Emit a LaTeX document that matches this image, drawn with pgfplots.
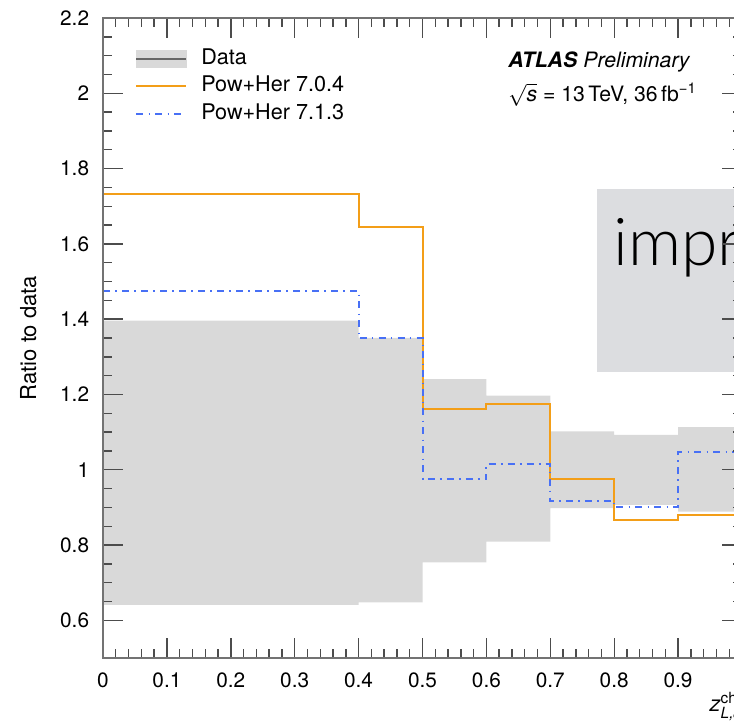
\documentclass[border=0pt]{standalone}
\usepackage{fontspec}
\usepackage{amsmath}
\usepackage{pgfplots}
\pgfplotsset{compat=1.18}
\usepgfplotslibrary{fillbetween}
\usetikzlibrary{calc}
\setmainfont{TeX Gyre Heros}
\newfontfamily\thinfont{Lato Light}

\definecolor{bandgray}{RGB}{217,217,217}
\definecolor{herorange}{RGB}{243,158,24}
\definecolor{herblue}{RGB}{72,112,245}
\definecolor{boxgray}{RGB}{220,221,224}

\begin{document}
\fontsize{10.4bp}{12bp}\selectfont
\begin{tikzpicture}
\begin{axis}[
    name=ax,
    scale only axis,
    width=319.5bp, height=320bp,
    xmin=0, xmax=1, ymin=0.5, ymax=2.2,
    xtick={0,0.1,...,1.0},
    ytick={0.6,0.8,1,1.2,1.4,1.6,1.8,2,2.2},
    minor x tick num=4,
    minor y tick num=3,
    tick align=inside,
    major tick length=10bp,
    minor tick length=4.3bp,
    axis line style={black!55, line width=0.8bp},
    every tick/.style={black!70, line width=0.7bp},
    axis on top,
    /pgf/number format/assume math mode=true,
    /pgf/number format/fixed,
    yticklabel style={xshift=-3.3bp},
    xticklabel style={yshift=-3.8bp},
    ylabel={Ratio to data},
    ylabel style={at={(axis description cs:-0.117,0.5)}, anchor=center, font=\fontsize{11bp}{13bp}\selectfont},
    xlabel={$\textit{z}^{\text{ch}}_{\textit{L,J}}$},
    xlabel style={at={(axis description cs:0.938,-0.083)}, anchor=base west, font=\fontsize{11bp}{13bp}\selectfont},
    legend style={at={(axis description cs:0.050,0.953)}, anchor=north west,
        draw=none, fill=none, inner sep=0pt, row sep=3.6bp,
        font=\fontsize{10.8bp}{13bp}\selectfont,
        nodes={inner sep=0pt, text height=7.8bp, text depth=2.4bp}},
    legend cell align=left,
    /tikz/every odd column/.append style={column sep=7bp},
    legend image code/.code={\draw[#1] (0bp,0bp) -- (25bp,0bp);},
]
\addlegendimage{legend image code/.code={
    \fill[bandgray] (0bp,-4.3bp) rectangle (25bp,4.3bp);
    \draw[black!60, line width=0.9bp] (0bp,0bp) -- (25bp,0bp);}}
\addlegendentry{Data}

% data uncertainty band
\addplot[name path=upper, draw=none, const plot, forget plot] coordinates {
(0,1.396) (0.4,1.350) (0.5,1.241) (0.6,1.197) (0.7,1.102) (0.8,1.093) (0.9,1.113) (1.0,1.113)};
\addplot[name path=lower, draw=none, const plot, forget plot] coordinates {
(0,0.641) (0.4,0.648) (0.5,0.754) (0.6,0.809) (0.7,0.898) (0.8,0.907) (0.9,0.889) (1.0,0.889)};
\addplot[fill=bandgray, draw=none, forget plot] fill between[of=upper and lower];

\addplot[herorange, line width=1bp, const plot] coordinates {
(0,1.733) (0.4,1.645) (0.5,1.162) (0.6,1.174) (0.7,0.975) (0.8,0.867) (0.9,0.880) (1.0,0.880)};
\addlegendentry{Pow+Her 7.0.4}

\addplot[herblue, line width=1bp, const plot, dash pattern=on 3.5bp off 2.6bp on 0.8bp off 2.6bp] coordinates {
(0,1.475) (0.4,1.349) (0.5,0.975) (0.6,1.015) (0.7,0.918) (0.8,0.900) (0.9,1.046) (1.0,1.046)};
\addlegendentry{Pow+Her 7.1.3}

\node[anchor=base west, font=\fontsize{10.6bp}{12bp}\selectfont] at (axis description cs:0.623,0.922)
    {\textbf{\textit{ATLAS}} \textit{Preliminary}};
\node[anchor=base west, font=\fontsize{10.6bp}{12bp}\selectfont] at (axis description cs:0.623,0.869)
    {$\sqrt{\textit{s}}$ = 13\,TeV, 36\,fb\textsuperscript{−1}};

% overlay box from the slide
\fill[boxgray] (axis cs:0.773,1.261) rectangle (axis cs:1.2,1.745);
\node[anchor=base west, inner sep=0pt, font=\thinfont\fontsize{33bp}{36bp}\selectfont] at (axis cs:0.798,1.5426) {impr};
\end{axis}
\pgfresetboundingbox
\path[use as bounding box] ($(ax.south west)+(-51.5bp,-32.5bp)$) rectangle ($(ax.south west)+(315.5bp,329bp)$);
\end{tikzpicture}
\end{document}
